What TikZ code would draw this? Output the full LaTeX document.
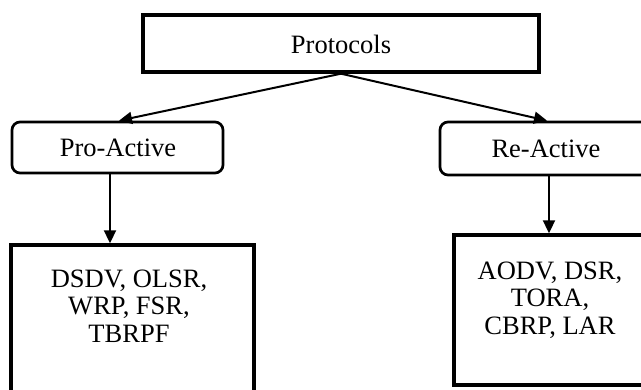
\documentclass[tikz,border=0pt]{standalone}
\usepackage{fontspec}
\setmainfont{Liberation Serif}
\usetikzlibrary{arrows.meta}
\begin{document}
\begin{tikzpicture}[x=1pt,y=-1pt,
  sqbox/.style={draw,line width=3.4pt,inner sep=0pt},
  rbox/.style={draw,line width=2.7pt,rounded corners=8pt,inner sep=0pt},
  lbl/.style={font=\fontsize{26.5}{27.5}\selectfont,align=center,inner sep=0pt},
  arr/.style={line width=2pt,-{Triangle[length=13pt,width=12pt]}}]
\useasboundingbox (0,0) rectangle (641,390);
\clip (0,0) rectangle (641,390);
\node[sqbox,minimum width=396pt,minimum height=57pt] (proto) at (341,43.5) {};
\node[lbl] (protot) at (341,44) {Protocols};
\node[rbox,minimum width=211pt,minimum height=51pt] (pro) at (117.5,147.5) {};
\node[lbl] (prot) at (118,148) {Pro-Active};
\node[rbox,minimum width=210pt,minimum height=53pt] (re) at (545,148.5) {};
\node[lbl] (ret) at (546,149) {Re-Active};
\node[sqbox,minimum width=243pt,minimum height=170pt] (lb) at (132.5,330) {};
\node[lbl] (lbt) at (129,306) {DSDV, OLSR,\\WRP, FSR,\\TBRPF};
\node[sqbox,minimum width=192pt,minimum height=150pt] (rb) at (550,310) {};
\node[lbl] (rbt) at (550,300) {AODV, DSR,\\TORA,\\CBRP, LAR};
\draw[arr] (proto.south) -- ([xshift=1.5pt]pro.north);
\draw[arr] (proto.south) -- ([xshift=2pt]re.north);
\draw[arr] ([xshift=-7.5pt]pro.south) -- ([xshift=-22.5pt]lb.north);
\draw[arr] ([xshift=4pt]re.south) -- ([xshift=-1pt]rb.north);
\end{tikzpicture}
\end{document}
